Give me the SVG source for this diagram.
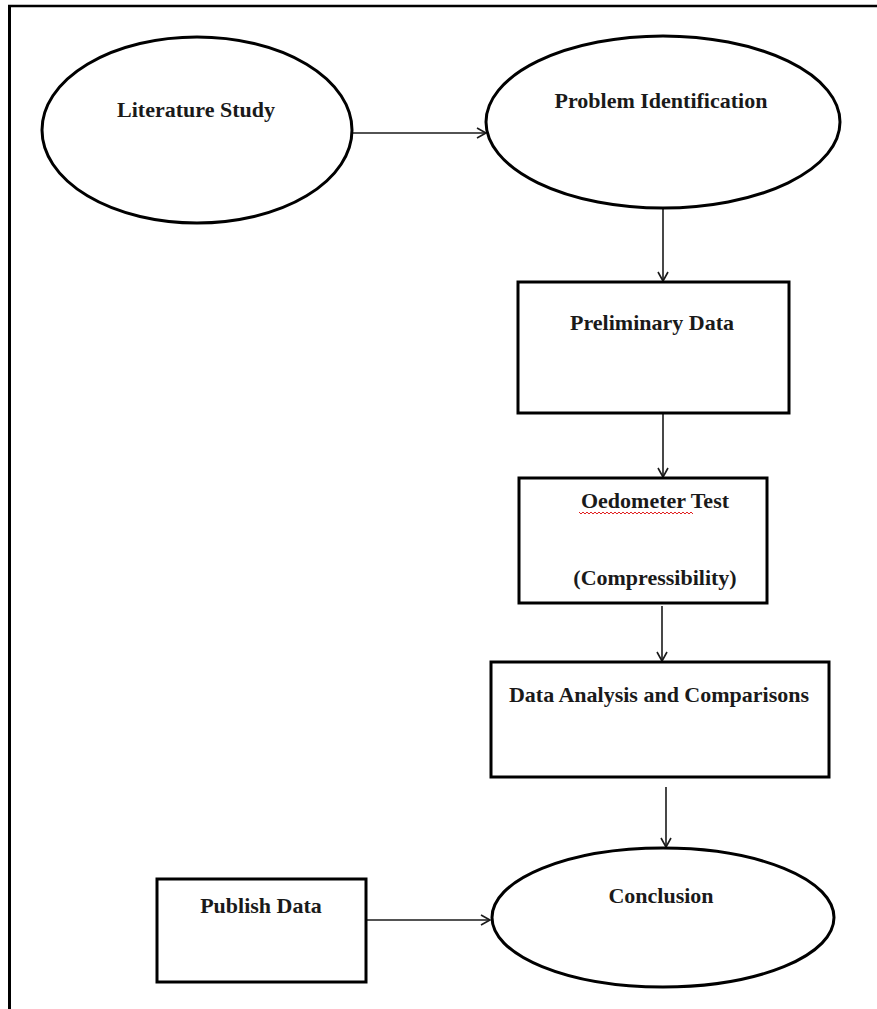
<svg xmlns="http://www.w3.org/2000/svg" width="877" height="1009" viewBox="0 0 877 1009">
<style>
.shape{fill:#fff;stroke:#000;stroke-width:3}
.lbl{font-family:"Liberation Serif","Times New Roman",serif;font-weight:bold;font-size:22px;fill:#1a1a1a;text-anchor:middle}
.conn{stroke:#1a1a1a;stroke-width:1.6;fill:none;marker-end:url(#arr)}
</style>
<defs>
<marker id="arr" markerUnits="userSpaceOnUse" markerWidth="14" markerHeight="14" refX="10" refY="6" orient="auto">
<path d="M1,1 L10,6 L1,11" fill="none" stroke="#1a1a1a" stroke-width="1.6"/>
</marker>
</defs>
<rect width="877" height="1009" fill="#fff"/>
<g id="frame">
<line x1="8" y1="6" x2="877" y2="6" stroke="#000" stroke-width="2.5"/>
<line x1="9.5" y1="5" x2="9.5" y2="1009" stroke="#000" stroke-width="3"/>
</g>
<g id="connectors">
<line class="conn" x1="352" y1="133" x2="486" y2="133"/>
<line class="conn" x1="663" y1="208" x2="663" y2="281"/>
<line class="conn" x1="663" y1="414" x2="663" y2="477"/>
<line class="conn" x1="662" y1="606" x2="662" y2="661"/>
<line class="conn" x1="666" y1="787" x2="666" y2="847"/>
<line class="conn" x1="366" y1="920" x2="490" y2="920"/>
</g>
<g id="literature-study">
<ellipse class="shape" cx="197" cy="130" rx="155" ry="93"/>
<text class="lbl" x="196" y="117">Literature Study</text>
</g>
<g id="problem-identification">
<ellipse class="shape" cx="663" cy="122" rx="177" ry="86"/>
<text class="lbl" x="661" y="108">Problem Identification</text>
</g>
<g id="preliminary-data">
<rect class="shape" x="518" y="282" width="271" height="131"/>
<text class="lbl" x="652" y="330">Preliminary Data</text>
</g>
<g id="oedometer-test">
<rect class="shape" x="519" y="478" width="248" height="125"/>
<text class="lbl" x="655" y="508">Oedometer Test</text>
<path d="M579,512 l2,2 l2,-2 l2,2 l2,-2 l2,2 l2,-2 l2,2 l2,-2 l2,2 l2,-2 l2,2 l2,-2 l2,2 l2,-2 l2,2 l2,-2 l2,2 l2,-2 l2,2 l2,-2 l2,2 l2,-2 l2,2 l2,-2 l2,2 l2,-2 l2,2 l2,-2 l2,2 l2,-2 l2,2 l2,-2 l2,2 l2,-2 l2,2 l2,-2 l2,2 l2,-2 l2,2 l2,-2 l2,2 l2,-2 l2,2 l2,-2 l2,2 l2,-2 l2,2 l2,-2 l2,2 l2,-2 l2,2 l2,-2 l2,2 l2,-2 l2,2 l2,-2 l2,2" fill="none" stroke="#e02020" stroke-width="1"/>
<text class="lbl" x="655" y="585">(Compressibility)</text>
</g>
<g id="data-analysis">
<rect class="shape" x="491" y="662" width="338" height="115"/>
<text class="lbl" x="659" y="702">Data Analysis and Comparisons</text>
</g>
<g id="publish-data">
<rect class="shape" x="157" y="879" width="209" height="103"/>
<text class="lbl" x="261" y="913">Publish Data</text>
</g>
<g id="conclusion">
<ellipse class="shape" cx="663" cy="917.5" rx="171" ry="69.5"/>
<text class="lbl" x="661" y="903">Conclusion</text>
</g>
</svg>
